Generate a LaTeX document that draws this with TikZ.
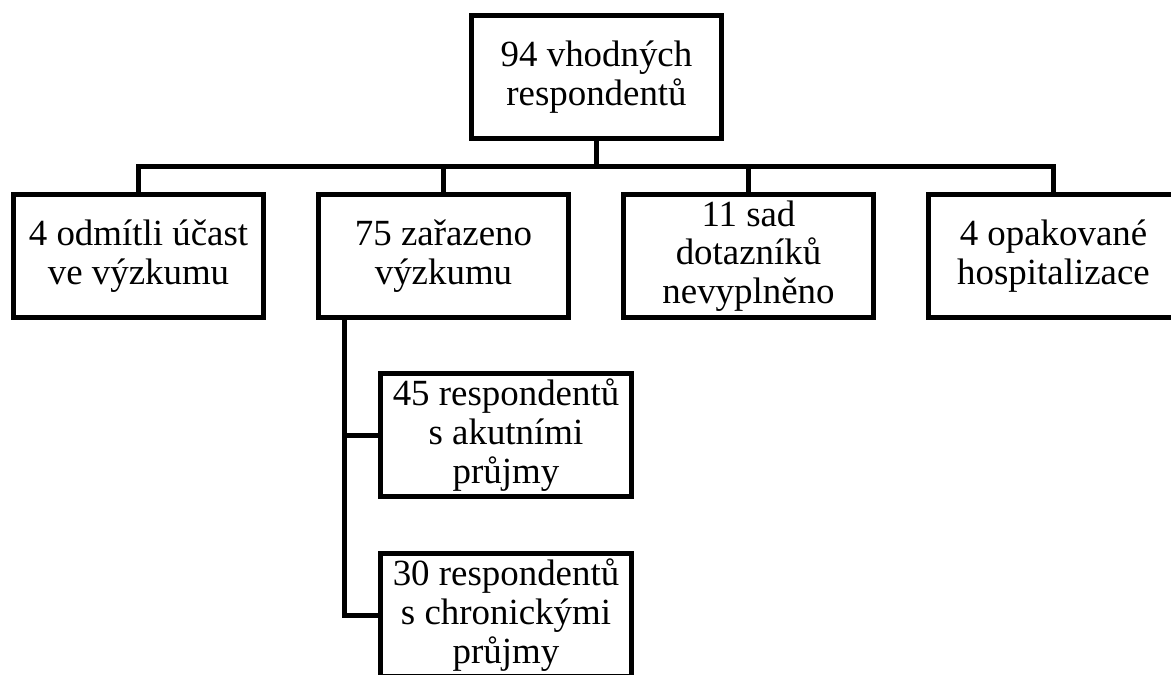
\documentclass[tikz,border=0pt]{standalone}
\usepackage{fontspec}
\setmainfont{Liberation Serif}
\begin{document}
\begin{tikzpicture}[x=0.02cm,y=-0.02cm,
  box/.style={draw, line width=0.1cm, rectangle, minimum width=5.02cm, minimum height=2.48cm,
    inner sep=0pt, align=center, font=\fontsize{21}{22}\selectfont},
  conn/.style={line width=0.1cm}]
\useasboundingbox (0,0) rectangle (1171,674);
\clip (0,0) rectangle (1171,674);
\node[box] (top) at (596.5,77) {94 vhodných\\respondentů};
\node[box] (b1) at (138.5,256) {4 odmítli účast\\ve výzkumu};
\node[box] (b2) at (443.5,256) {75 zařazeno\\výzkumu};
\node[box] (b3) at (748.5,256) {11 sad\\dotazníků\\nevyplněno};
\node[box] (b4) at (1053.5,256) {4 opakované\\hospitalizace};
\node[box, minimum width=5.04cm] (c1) at (506,435) {45 respondentů\\s akutními\\průjmy};
\node[box, minimum width=5.04cm] (c2) at (506,615) {30 respondentů\\s chronickými\\průjmy};
\coordinate (bus) at (596.5,166);
\coordinate (v) at (344,318);
\draw[conn] (top.south) -- (bus);
\draw[conn] (b1.north) |- (bus) -| (b4.north);
\draw[conn] (b2.north) -- (b2.north |- bus);
\draw[conn] (b3.north) -- (b3.north |- bus);
\draw[conn] (v) |- (c2.west);
\draw[conn] (c1.west) -- (c1.west -| v);
\end{tikzpicture}
\end{document}
